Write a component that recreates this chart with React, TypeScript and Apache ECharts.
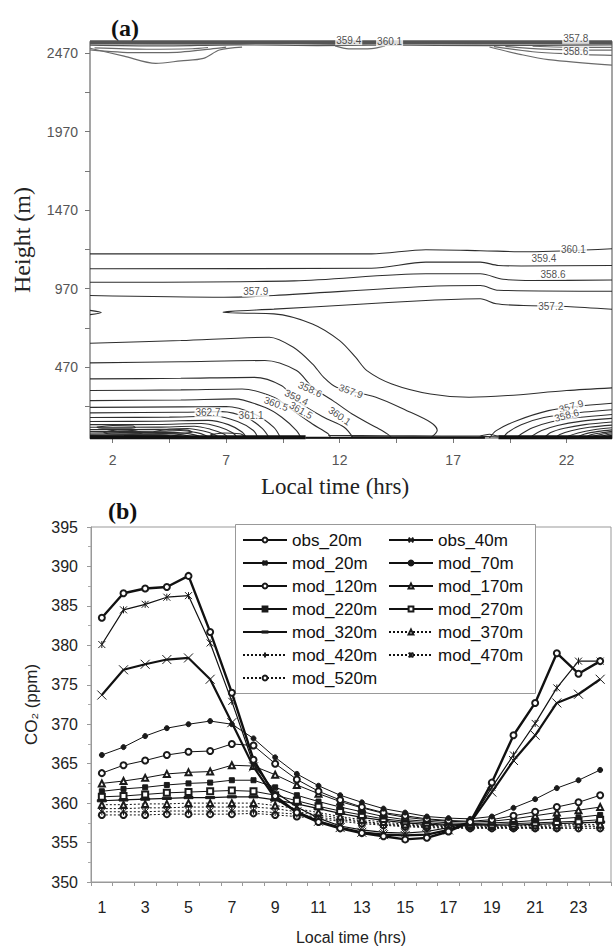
import { useEffect, useRef } from "react";
import * as echarts from "echarts";

const SANS = '"Liberation Sans", Arial, sans-serif';
const SERIF = '"Liberation Serif", "Times New Roman", serif';

// ---------- panel (a): height / time cross-section ----------
const heightTicks = [220, 470, 720, 970, 1220, 1470, 1720, 1970, 2220, 2470];
const heightLabels = [470, 970, 1470, 1970, 2470];
const timeTicksA = [2, 4.5, 7, 9.5, 12, 14.5, 17, 19.5, 22];
const timeLabelsA = [2, 7, 12, 17, 22];

// contour lines, points are [local hour, height m]
const c360_1 = [[1, 1192], [13.4, 1192], [15.8, 1218], [18.2, 1212], [20.3, 1205], [24, 1224]];
const c359_4 = [[1, 1097], [13.4, 1100], [15.8, 1139], [18.2, 1139], [19.0, 1118], [20, 1115], [24, 1118]];
const c358_6 = [[1, 1011], [10, 1020], [15.8, 1065], [18.2, 1065], [19.2, 1030], [20.5, 1022], [24, 1025]];
const c357_9 = [[1, 927], [6.9, 916], [9.1, 927], [15.8, 984], [18.2, 990], [19.0, 960], [24, 954]];
const c357_2 = [[24, 839], [22, 857], [20.1, 863], [18.9, 874], [18.2, 906], [15.8, 895], [12.5, 868], [9.1, 840], [7.2, 826], [6.86, 820], [7.5, 815], [9.1, 810], [10.8, 746], [12.0, 640], [12.7, 534], [13.2, 449], [14.3, 364], [16.0, 300], [17.7, 279], [19.4, 290], [22.0, 322], [24, 339]];
const edgeNotch = [[1, 832], [1.5, 818], [1, 805]];

const low357_9 = [[1, 623], [5, 640], [8.9, 661], [9.96, 597], [10.8, 492], [11.3, 406], [11.86, 343], [13.6, 279], [14.96, 194], [16.0, 120], [16.3, 70], [16.0, 20]];
const low358_6 = [[1, 498], [5, 505], [8.7, 513], [10.1, 449], [10.8, 343], [11.7, 258], [12.55, 173], [13.6, 88], [14.1, 46], [14.3, 20]];
const low359_4 = [[1, 396], [5, 400], [8.24, 406], [9.45, 353], [10.1, 258], [11.3, 152], [12.2, 88], [12.6, 20]];
const low360_1 = [[1, 322], [5, 326], [7.7, 332], [9.1, 279], [9.96, 194], [10.8, 109], [11.5, 46], [11.6, 20]];
const low360_8 = [[1, 258], [5, 262], [7.37, 269], [8.7, 215], [9.45, 152], [10.1, 67], [10.3, 20]];
const low361_5 = [[1, 215], [5, 218], [7.0, 220], [8.24, 173], [9.1, 88], [9.4, 20]];
const low362_3 = [[1, 180], [5, 184], [6.8, 188], [7.9, 150], [8.6, 80], [8.9, 20]];
const low363_0 = [[1, 150], [4.5, 153], [6.5, 158], [7.5, 125], [8.2, 68], [8.4, 20]];
const low363_7 = [[1, 125], [4, 127], [6.2, 132], [7.1, 105], [7.7, 58], [7.9, 20]];
const low364_5 = [[1, 105], [4, 106], [5.9, 112], [6.7, 90], [7.3, 52], [7.5, 20]];
const low365_2 = [[1, 88], [4, 89], [5.6, 95], [6.3, 76], [6.9, 45], [7.1, 20]];
const low365_9 = [[1, 74], [4, 75], [5.3, 80], [6.0, 64], [6.5, 40], [6.7, 20]];
const low366_6 = [[1, 62], [4, 63], [5.0, 68], [5.7, 54], [6.1, 36], [6.3, 20]];
const low367_4 = [[1, 52], [4.7, 57], [5.4, 46], [5.8, 32], [5.9, 20]];
const low368_1 = [[1, 44], [4.4, 48], [5.1, 40], [5.5, 28], [5.6, 20]];
const low368_8 = [[1, 37], [4.1, 41], [4.8, 35], [5.2, 26], [5.3, 20]];
const low369_6 = [[1, 31], [3.8, 34], [4.5, 30], [4.9, 24], [5.0, 20]];
const low370_3 = [[1, 26], [3.5, 28], [4.2, 26], [4.6, 21]];
const blobA = [[1.6, 55], [2.2, 72], [3.0, 66], [3.3, 52], [2.6, 44], [1.8, 47], [1.6, 55]];
const blobB = [[3.8, 60], [4.5, 76], [5.3, 70], [5.5, 58], [4.7, 50], [3.9, 53], [3.8, 60]];
const blobC = [[2.5, 35], [3.5, 41], [4.5, 36], [3.6, 30], [2.5, 35]];
const blobD = [[6.3, 40], [6.9, 52], [7.6, 47], [7.8, 35], [7.0, 30], [6.4, 33], [6.3, 40]];
const blobE = [[1.3, 90], [2.0, 100], [2.9, 96], [3.0, 86], [2.2, 82], [1.4, 84], [1.3, 90]];

const right357_9 = [[24, 241], [22.4, 220], [21.2, 194], [19.8, 130], [18.9, 67], [18.6, 20]];
const right358_6 = [[24, 200], [22.3, 178], [21.0, 150], [20.0, 105], [19.4, 55], [19.2, 20]];
const right359_4 = [[24, 170], [22.5, 150], [21.3, 122], [20.5, 85], [20.0, 45], [19.8, 20]];
const right360_1 = [[24, 145], [22.6, 126], [21.6, 100], [20.9, 68], [20.5, 35], [20.4, 20]];
const right360_8 = [[24, 122], [22.8, 105], [21.9, 82], [21.3, 55], [21.0, 20]];
const right361_5 = [[24, 102], [23.0, 88], [22.2, 66], [21.7, 42], [21.5, 20]];
const right362_3 = [[24, 85], [23.2, 72], [22.5, 52], [22.1, 32], [22.0, 20]];
const right363_0 = [[24, 72], [23.4, 62], [22.8, 46], [22.5, 28], [22.4, 20]];
const right363_7 = [[24, 62], [23.5, 52], [23.0, 38], [22.8, 20]];
const right364_5 = [[24, 53], [23.6, 45], [23.2, 32], [23.1, 20]];
const right365_2 = [[24, 45], [23.7, 38], [23.4, 26], [23.3, 20]];
const right365_9 = [[24, 38], [23.8, 31], [23.6, 20]];
const right366_6 = [[24, 31], [23.85, 25], [23.75, 20]];

// afternoon surface layer and its kink near sunset
const noonLow1 = [[11.5, 36], [14, 34], [16.5, 33], [18.2, 34], [18.6, 44], [18.9, 34], [19.4, 30]];
const noonLow2 = [[12.5, 28], [15, 27], [18.0, 27], [18.5, 30], [19.0, 27]];

const groundLeft = [[1, 24], [10.5, 24]];
const groundMid = [[10.5, 22], [18.4, 22]];
const groundRight = [[19.0, 24], [24, 24]];

const topEdge = [[1, 2538], [24, 2538]];
const top1 = [[1, 2530], [6, 2528], [9, 2532], [12, 2527], [15, 2531], [18, 2528], [24, 2531]];
const top2 = [[1, 2520], [4, 2515], [7.5, 2522], [11, 2517], [14, 2521], [18.5, 2517], [24, 2522]];
const lobeL1 = [[1, 2500], [2.5, 2450], [3.9, 2404], [5.0, 2420], [6.0, 2436], [6.7, 2489], [7.7, 2508]];
const lobeL2 = [[1, 2490], [3, 2472], [5, 2476], [6.3, 2495], [7, 2507]];
const lobeL3 = [[1.2, 2502], [3.5, 2494], [5.5, 2497], [6.2, 2505]];
const dipMid = [[11.8, 2515], [12.4, 2496], [13.4, 2498], [14, 2515]];
const lobeR1 = [[18.6, 2508], [20, 2460], [21.2, 2428], [24, 2393]];
const lobeR2 = [[18.8, 2510], [20.5, 2478], [22, 2465], [24, 2455]];
const lobeR3 = [[19.3, 2512], [21, 2495], [24, 2488]];
const lobeR4 = [[20.5, 2513], [22.5, 2506], [24, 2506]];

const contourLines = [
  c360_1, c359_4, c358_6, c357_9, c357_2, edgeNotch,
  low357_9, low358_6, low359_4, low360_1, low360_8, low361_5, low362_3, low363_0,
  low363_7, low364_5, low365_2, low365_9, low366_6, low367_4, low368_1, low368_8,
  low369_6, low370_3, blobA, blobB, blobC, blobD, blobE,
  right357_9, right358_6, right359_4, right360_1, right360_8, right361_5, right362_3,
  right363_0, right363_7, right364_5, right365_2, right365_9, right366_6,
  noonLow1, noonLow2,
];
const groundLines = [groundLeft, groundMid, groundRight];
const groundWidths = [4, 2, 4];
const topLines = [topEdge, top1, top2, lobeL1, lobeL2, lobeL3, dipMid, lobeR1, lobeR2, lobeR3, lobeR4];

// contour value labels: [hour, height, text]
const contourLabels: [number, number, string][] = [
  [21.0, 1165, "359.4"],
  [22.3, 1222, "360.1"],
  [21.4, 1060, "358.6"],
  [8.3, 950, "357.9"],
  [21.3, 860, "357.2"],
  [12.5, 318, "357.9"],
  [10.7, 330, "358.6"],
  [10.1, 278, "359.4"],
  [9.2, 238, "360.5"],
  [10.3, 196, "361.5"],
  [12.0, 160, "360.1"],
  [6.2, 180, "362.7"],
  [8.1, 165, "361.1"],
  [22.2, 222, "357.9"],
  [22.0, 164, "358.6"],
  [12.4, 2552, "359.4"],
  [14.2, 2544, "360.1"],
  [22.4, 2560, "357.8"],
  [22.4, 2480, "358.6"],
];
const labelTilt = [0, 0, 0, 0, 0, -20, -25, -25, -20, -30, -35, 0, 0, 15, 15, 0, 0, 0, 0];

// ---------- panel (b): CO2 diurnal cycle ----------
const hours = ["1", "2", "3", "4", "5", "6", "7", "8", "9", "10", "11", "12", "13", "14", "15", "16", "17", "18", "19", "20", "21", "22", "23", "24"];
const obs20 = [383.5, 386.6, 387.2, 387.4, 388.8, 381.7, 374.0, 365.5, 360.9, 358.8, 357.6, 356.8, 356.2, 355.8, 355.4, 355.6, 356.4, 357.6, 362.6, 368.6, 372.7, 379.0, 376.4, 378.0];
const obs40 = [373.7, 376.9, 377.6, 378.2, 378.4, 375.7, 370.2, 364.6, 360.6, 358.9, 357.7, 356.9, 356.3, 356.0, 355.9, 356.0, 356.6, 357.5, 361.4, 365.4, 368.6, 372.7, 373.8, 375.7];
const mod20 = [380.1, 384.5, 385.2, 386.1, 386.3, 380.3, 372.9, 364.9, 361.4, 359.5, 358.1, 357.1, 356.6, 356.3, 356.2, 356.4, 356.9, 357.6, 362.0, 366.1, 370.1, 374.6, 378.0, 378.0];
const mod70 = [366.1, 367.1, 368.5, 369.5, 370.0, 370.4, 370.0, 368.2, 365.8, 363.7, 362.2, 361.0, 360.1, 359.3, 358.8, 358.3, 358.1, 358.0, 358.3, 359.4, 360.5, 361.9, 362.9, 364.2];
const mod120 = [363.8, 364.8, 365.4, 366.1, 366.5, 366.6, 367.5, 367.3, 365.0, 363.0, 361.5, 360.4, 359.5, 358.8, 358.4, 358.0, 357.8, 357.7, 357.9, 358.4, 358.9, 359.5, 360.1, 361.0];
const mod170 = [362.5, 362.8, 363.2, 363.7, 363.9, 364.0, 364.8, 364.7, 363.6, 362.3, 361.2, 360.2, 359.4, 358.7, 358.2, 357.9, 357.7, 357.6, 357.7, 358.0, 358.4, 358.8, 359.1, 359.5];
const mod220 = [361.5, 361.8, 362.0, 362.3, 362.5, 362.6, 362.9, 362.9, 362.0, 361.0, 360.2, 359.5, 358.9, 358.3, 357.9, 357.7, 357.5, 357.4, 357.5, 357.6, 357.8, 358.0, 358.2, 358.5];
const mod270 = [360.8, 360.9, 361.1, 361.3, 361.4, 361.5, 361.6, 361.5, 361.0, 360.3, 359.6, 359.0, 358.5, 358.0, 357.7, 357.5, 357.3, 357.3, 357.3, 357.4, 357.5, 357.6, 357.7, 357.9];
const mod320 = [360.3, 360.4, 360.5, 360.6, 360.7, 360.7, 360.8, 360.8, 360.4, 359.9, 359.3, 358.7, 358.2, 357.8, 357.5, 357.3, 357.2, 357.2, 357.2, 357.2, 357.3, 357.4, 357.5, 357.6];
const mod370 = [359.8, 359.8, 359.9, 359.9, 360.0, 360.0, 360.0, 360.0, 359.7, 359.3, 358.8, 358.3, 357.9, 357.6, 357.3, 357.2, 357.1, 357.1, 357.1, 357.1, 357.2, 357.2, 357.3, 357.3];
const mod420 = [359.3, 359.3, 359.4, 359.4, 359.5, 359.5, 359.5, 359.5, 359.3, 358.9, 358.5, 358.1, 357.7, 357.4, 357.2, 357.1, 357.0, 357.0, 357.0, 357.0, 357.0, 357.1, 357.1, 357.1];
const mod470 = [358.9, 358.9, 358.9, 359.0, 359.0, 359.0, 359.0, 359.0, 358.8, 358.6, 358.2, 357.9, 357.6, 357.3, 357.1, 357.0, 356.9, 356.9, 356.9, 356.9, 356.9, 356.9, 357.0, 357.0];
const mod520 = [358.5, 358.5, 358.5, 358.6, 358.6, 358.6, 358.6, 358.7, 358.5, 358.3, 358.0, 357.7, 357.4, 357.2, 357.0, 356.9, 356.8, 356.8, 356.8, 356.8, 356.8, 356.8, 356.8, 356.8];

const legendLeftCol = ["obs_20m", "mod_20m", "mod_120m", "mod_220m", "mod_320m", "mod_420m", "mod_520m"];
const legendRightCol = ["obs_40m", "mod_70m", "mod_170m", "mod_270m", "mod_370m", "mod_470m"];

const X_MARK = "path://M0,0L10,10M10,0L0,10";
const STAR_MARK = "path://M0,0L10,10M10,0L0,10M5,0L5,10";
const PLUS_MARK = "path://M5,0L5,10M0,5L10,5";
// flat bar inside a square box so it keeps its shape wherever it is drawn
const DASH_MARK = "path://M0,0L0,0M10,10L10,10M0,3.8L10,3.8L10,6.2L0,6.2Z";

type Profile = {
  name: string;
  data: number[];
  symbol: string;
  size: number;
  width: number;
  dotted?: boolean;
};

const profiles: Profile[] = [
  { name: "mod_520m", data: mod520, symbol: "emptyCircle", size: 6, width: 1, dotted: true },
  { name: "mod_470m", data: mod470, symbol: STAR_MARK, size: 7, width: 1, dotted: true },
  { name: "mod_420m", data: mod420, symbol: PLUS_MARK, size: 7, width: 1, dotted: true },
  { name: "mod_370m", data: mod370, symbol: "emptyTriangle", size: 6, width: 1, dotted: true },
  { name: "mod_320m", data: mod320, symbol: DASH_MARK, size: 9, width: 1.2 },
  { name: "mod_270m", data: mod270, symbol: "emptyRect", size: 6, width: 1 },
  { name: "mod_220m", data: mod220, symbol: "rect", size: 5, width: 1 },
  { name: "mod_170m", data: mod170, symbol: "emptyTriangle", size: 6, width: 1 },
  { name: "mod_120m", data: mod120, symbol: "emptyCircle", size: 6, width: 1 },
  { name: "mod_70m", data: mod70, symbol: "circle", size: 5, width: 1 },
  { name: "mod_20m", data: mod20, symbol: STAR_MARK, size: 7, width: 1.2 },
  { name: "obs_40m", data: obs40, symbol: X_MARK, size: 9, width: 2.2 },
  { name: "obs_20m", data: obs20, symbol: "emptyCircle", size: 6, width: 2.4 },
];

export default function App() {
  const ref = useRef<HTMLDivElement>(null);

  useEffect(() => {
    if (!ref.current) return;
    const chart = echarts.init(ref.current, undefined, { renderer: "svg" });

    const contourSeries: any[] = [];
    contourLines.forEach((pts) =>
      contourSeries.push({
        type: "line", xAxisIndex: 0, yAxisIndex: 0, data: pts, symbol: "none", smooth: 0.3,
        silent: true, lineStyle: { color: "#2e2e2e", width: 1.1 }, emphasis: { disabled: true }, z: 2,
      })
    );
    groundLines.forEach((pts, i) =>
      contourSeries.push({
        type: "line", xAxisIndex: 0, yAxisIndex: 0, data: pts, symbol: "none",
        silent: true, lineStyle: { color: "#111", width: groundWidths[i] }, emphasis: { disabled: true }, z: 2,
      })
    );
    topLines.forEach((pts, i) =>
      contourSeries.push({
        type: "line", xAxisIndex: 0, yAxisIndex: 0, data: pts, symbol: "none", smooth: 0.3,
        silent: true, lineStyle: { color: i < 3 ? "#555" : "#6a6a6a", width: i === 0 ? 4 : 1.2 },
        emphasis: { disabled: true }, z: 2,
      })
    );

    const labelSeries = {
      type: "scatter", xAxisIndex: 0, yAxisIndex: 0, symbolSize: 1, clip: false, silent: true, z: 6,
      itemStyle: { color: "transparent" },
      data: contourLabels.map(([x, y, t], i) => ({ value: [x, y], name: t, label: { rotate: labelTilt[i] } })),
      label: {
        show: true, position: "inside", formatter: (p: any) => p.name,
        fontSize: 10, fontFamily: SANS, color: "#222", backgroundColor: "#fff", padding: [0, 1],
      },
      emphasis: { disabled: true },
    };

    const profileSeries = profiles.map((p) => ({
      type: "line", name: p.name, xAxisIndex: 1, yAxisIndex: 1, data: p.data,
      symbol: p.symbol, symbolSize: p.size, showAllSymbol: true,
      lineStyle: { color: "#111", width: p.width, type: p.dotted ? [2, 2] : "solid" },
      itemStyle: { color: "#1a1a1a", borderColor: "#1a1a1a", borderWidth: 1 },
      emphasis: { disabled: true },
      z: 3,
    }));

    const legendText = { fontSize: 17, lineHeight: 18, fontFamily: SANS, color: "#111" };

    chart.setOption({
      animation: false,
      backgroundColor: "#fff",
      grid: [
        { left: 90, top: 42, width: 522, height: 396, show: true, borderColor: "#888", borderWidth: 1.5, backgroundColor: "transparent" },
        { left: 91, top: 527, width: 520, height: 356, show: true, borderColor: "#999", borderWidth: 1, backgroundColor: "transparent" },
      ],
      xAxis: [
        {
          type: "value", gridIndex: 0, min: 1, max: 24,
          axisLine: { show: false },
          axisTick: { show: true, customValues: timeTicksA, length: 5, lineStyle: { color: "#777" } },
          axisLabel: { customValues: timeLabelsA, margin: 15, fontSize: 14, fontFamily: SANS, color: "#555" },
          splitLine: { show: false },
          name: "Local time (hrs)", nameLocation: "middle", nameGap: 37,
          nameTextStyle: { fontFamily: SERIF, fontSize: 23, color: "#222", padding: [0, 32, 0, 0] },
        },
        {
          type: "category", gridIndex: 1, data: hours, boundaryGap: true,
          axisLine: { show: true, lineStyle: { color: "#999" } },
          axisTick: { show: true, interval: 0, length: 4, lineStyle: { color: "#999" } },
          axisLabel: { interval: 1, margin: 17, fontSize: 16, fontFamily: SANS, color: "#222" },
          name: "Local time (hrs)", nameLocation: "middle", nameGap: 47,
          nameTextStyle: { fontFamily: SANS, fontSize: 16, color: "#222" },
        },
      ],
      yAxis: [
        {
          type: "value", gridIndex: 0, min: 20, max: 2540,
          axisLine: { show: false },
          axisTick: { show: true, customValues: heightTicks, length: 5, lineStyle: { color: "#777" } },
          axisLabel: { customValues: heightLabels, formatter: (v: number) => String(v), margin: 12, fontSize: 14, fontFamily: SANS, color: "#555" },
          splitLine: { show: false },
          name: "Height (m)", nameLocation: "middle", nameGap: 56,
          nameTextStyle: { fontFamily: SERIF, fontSize: 24, color: "#222" },
        },
        {
          type: "value", gridIndex: 1, min: 350, max: 395, interval: 5,
          axisLine: { show: true, lineStyle: { color: "#999" } },
          axisTick: { show: true, length: 4, lineStyle: { color: "#999" } },
          minorTick: { show: true, splitNumber: 2, length: 3, lineStyle: { color: "#aaa" } },
          axisLabel: { margin: 13, fontSize: 16, fontFamily: SANS, color: "#222" },
          splitLine: { show: false },
          name: "CO₂ (ppm)", nameLocation: "middle", nameGap: 51,
          nameTextStyle: { fontFamily: SANS, fontSize: 17, color: "#222" },
        },
      ],
      legend: [
        {
          orient: "vertical", left: 242, top: 531, padding: 0, itemGap: 5, itemWidth: 44, itemHeight: 6,
          data: legendLeftCol, textStyle: legendText, selectedMode: false,
        },
        {
          orient: "vertical", left: 388, top: 531, padding: 0, itemGap: 5, itemWidth: 44, itemHeight: 6,
          data: legendRightCol, textStyle: legendText, selectedMode: false,
        },
      ],
      graphic: [
        { type: "text", left: 111, top: 16, z: 10, style: { text: "(a)", font: `bold 24px ${SERIF}`, fill: "#111" } },
        { type: "text", left: 108, top: 499, z: 10, style: { text: "(b)", font: `bold 24px ${SERIF}`, fill: "#111" } },
        { type: "rect", left: 235, top: 524, z: 3, shape: { width: 300, height: 169 }, style: { fill: "#fff", stroke: "#999", lineWidth: 1 } },
      ],
      series: [...contourSeries, labelSeries, ...profileSeries],
    });

    return () => chart.dispose();
  }, []);

  return <div ref={ref} style={{ position: "absolute", left: 0, top: 0, width: 614, height: 946, background: "#fff" }} />;
}
